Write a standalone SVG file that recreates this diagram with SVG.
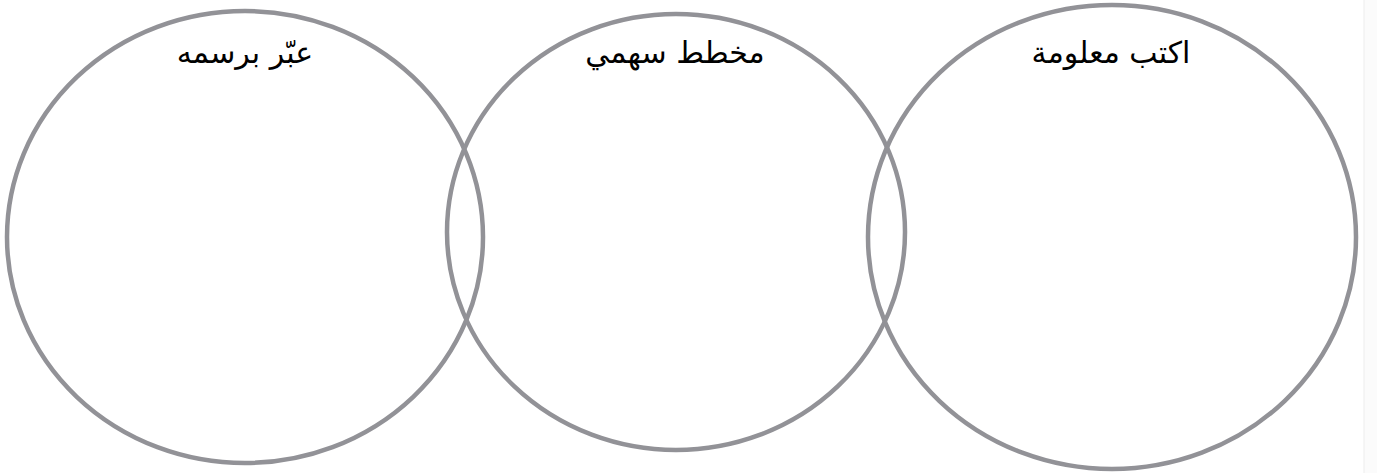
<svg xmlns="http://www.w3.org/2000/svg" width="1377" height="473" viewBox="0 0 1377 473">
<style>
.ring{fill:none;stroke:#929297;stroke-width:4.5}
.lbl{font-family:"DejaVu Sans","Noto Sans",sans-serif;font-size:30px;fill:#000;text-anchor:middle}
</style>
<rect x="0" y="0" width="1377" height="473" fill="#ffffff"/>
<rect x="1364" y="0" width="13" height="473" fill="#fbfbfb"/>
<line x1="1364" y1="0" x2="1364" y2="473" stroke="#ededed" stroke-width="1"/>
<g id="node-draw">
<ellipse class="ring" cx="245" cy="237" rx="238" ry="226"/>
<text class="lbl" x="245" y="63" direction="rtl">عبّر برسمه</text>
</g>
<g id="node-arrow">
<ellipse class="ring" cx="676" cy="232" rx="229" ry="218"/>
<text class="lbl" x="675" y="63" direction="rtl">مخطط سهمي</text>
</g>
<g id="node-info">
<ellipse class="ring" cx="1112" cy="237" rx="244" ry="232"/>
<text class="lbl" x="1111" y="63" direction="rtl">اكتب معلومة</text>
</g>
<g id="connectors"></g>
</svg>
